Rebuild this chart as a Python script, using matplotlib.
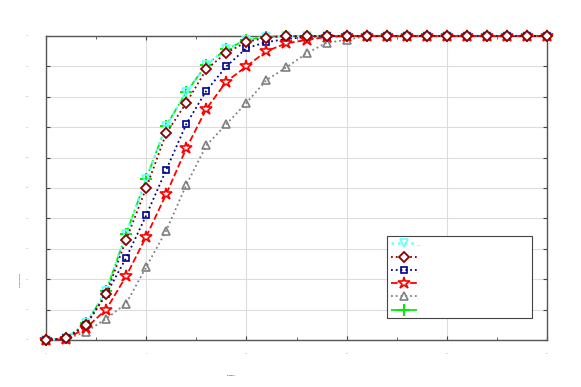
import matplotlib
matplotlib.use("Agg")
import matplotlib.pyplot as plt
import numpy as np

x = list(range(26))
tail = lambda n: [1.0] * (26 - n)
s_cyan = [0.0, 0.006, 0.055, 0.16, 0.35, 0.53, 0.705, 0.815, 0.905, 0.957, 0.987, 0.998] + tail(12)
s_dred = [0.0, 0.005, 0.05, 0.15, 0.33, 0.50, 0.68, 0.78, 0.89, 0.945, 0.98, 0.995] + tail(12)
s_blue = [0.0, 0.005, 0.05, 0.15, 0.27, 0.41, 0.56, 0.71, 0.82, 0.90, 0.96, 0.98, 0.99, 0.997] + tail(14)
s_red = [0.0, 0.003, 0.04, 0.10, 0.21, 0.34, 0.48, 0.63, 0.76, 0.85, 0.90, 0.95, 0.976, 0.987, 0.997] + tail(15)
s_gray = [0.0, 0.003, 0.027, 0.07, 0.12, 0.24, 0.36, 0.51, 0.64, 0.71, 0.78, 0.855, 0.897, 0.943, 0.978, 0.987] + tail(16)
s_green = [0.0, 0.006, 0.055, 0.16, 0.35, 0.53, 0.705, 0.815, 0.905, 0.957, 0.987, 0.998] + tail(12)
labels = ["------", "--", "--", "--", "--", "--"]

fig = plt.figure(figsize=(5.81, 3.87), dpi=100)
ax = fig.add_axes([46/581, 47/387, 501/581, 304/387])

ms = 6
common = dict(clip_on=False)
ax.plot(x, s_cyan, ':', color='#66ffff', marker='v', ms=ms, mfc='none', mec='#66ffff', mew=1.2, lw=1.8, label=labels[0], zorder=3, **common)
ax.plot(x, s_dred, ':', color='#8b0000', marker='D', ms=ms-0.5, mfc='white', mec='#8b0000', mew=1.3, lw=1.3, label=labels[1], zorder=6, **common)
ax.plot(x, s_blue, ':', color='#00008b', marker='s', ms=ms-1, mfc='none', mec='#00008b', mew=1.2, lw=1.3, label=labels[2], zorder=4, **common)
ax.plot(x, s_red, '--', color='red', marker='*', ms=ms+3, mfc='white', mec='red', mew=1.2, lw=1.3, label=labels[3], zorder=5, **common)
ax.plot(x, s_gray, ':', color='#808080', marker='^', ms=ms, mfc='none', mec='#808080', mew=1.2, lw=1.3, label=labels[4], zorder=3, **common)
ax.plot(x, s_green, '-.', color='#00ee00', marker='+', ms=ms+3, mew=1.5, lw=1.3, label=labels[5], zorder=2, **common)

ax.set_xlim(0, 25)
ax.set_ylim(0, 1)
ax.set_xticks(np.arange(0, 26, 5))
ax.set_xticks(np.arange(0, 26, 2.5), minor=True)
ax.set_yticks(np.arange(0, 1.01, 0.1))
ax.grid(True, which='major', color='#dddddd', lw=0.8)
ax.tick_params(which='both', direction='in', top=True, right=True, labelsize=1.5, labelcolor='#999999', color='#444444')
ax.tick_params(which='major', length=3)
ax.tick_params(which='minor', length=2)
ax.tick_params(axis='y', pad=12)
ax.tick_params(axis='x', pad=9)
for sp in ax.spines.values():
    sp.set_color('#555555')
    sp.set_linewidth(1.0)
ax.set_xlabel('xxxxxxx', fontsize=1.5)
ax.set_ylabel('yyyyyyyyyyyy', fontsize=1.5)
ax.xaxis.set_label_coords(0.37, -0.115)
ax.yaxis.set_label_coords(-0.05, 0.2)

leg = ax.legend(loc='lower left', bbox_to_anchor=(0.681, 0.072, 0.289, 0.277), mode='expand',
                fontsize=6, handlelength=3.1, handleheight=1.0, handletextpad=0.0,
                labelspacing=0.7, borderpad=0.5, borderaxespad=0, frameon=True, fancybox=False)
for t in leg.get_texts():
    t.set_fontsize(1.5)
leg.get_frame().set_edgecolor('#444444')
leg.get_frame().set_linewidth(0.8)
leg.get_frame().set_alpha(1)
fig.savefig('out.png', dpi=100)
